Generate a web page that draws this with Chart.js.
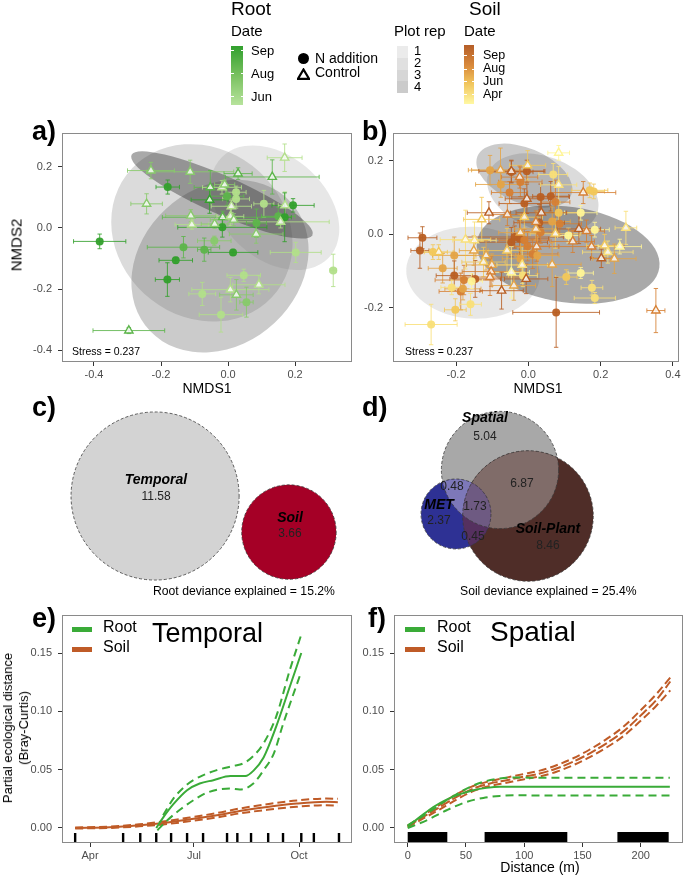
<!DOCTYPE html>
<html><head><meta charset="utf-8">
<script src="https://cdn.jsdelivr.net/npm/chart.js@4.4.1/dist/chart.umd.min.js"></script>
<style>
body{margin:0;width:685px;height:878px;position:relative;background:#fff;overflow:hidden;font-family:"Liberation Sans",Arial,Helvetica,sans-serif}
canvas{position:absolute;left:0;top:0}
.t{position:absolute;white-space:nowrap;line-height:1;color:#000}
.box{position:absolute}
</style></head><body>
<script>
// ---------------- DATA ----------------
// Panel a (Root NMDS)
const aX  = [0.169,-0.230,-0.113,0.030,0.132,-0.180,-0.053,-0.018,-0.010,0.024,-0.003,0.024,-0.243,-0.055,0.010,0.107,0.194,0.170,-0.111,-0.016,0.007,0.017,0.150,0.169,0.157,-0.108,-0.040,0.085,-0.017,0.084,-0.383,-0.041,-0.133,-0.071,0.015,0.202,-0.156,0.314,-0.181,0.047,0.092,0.007,0.025,-0.077,0.055,-0.021,-0.296];
const aY  = [0.230,0.188,0.184,0.178,0.167,0.134,0.133,0.133,0.142,0.117,0.104,0.095,0.079,0.092,0.071,0.079,0.074,0.074,0.040,0.035,0.038,0.027,0.038,0.035,0.020,0.011,0.013,0.016,0.002,-0.020,-0.044,-0.042,-0.063,-0.071,-0.080,-0.080,-0.106,-0.139,-0.169,-0.155,-0.186,-0.202,-0.219,-0.216,-0.243,-0.284,-0.336];
const aXerr = [0.052,0.070,0.130,0.042,0.140,0.035,0.048,0.058,0.030,0.030,0.050,0.040,0.047,0.055,0.060,0.030,0.063,0.020,0.075,0.180,0.040,0.070,0.050,0.020,0.145,0.050,0.040,0.030,0.133,0.080,0.078,0.050,0.108,0.020,0.074,0.076,0.050,0.010,0.036,0.050,0.078,0.115,0.050,0.040,0.020,0.065,0.107];
const aYerr = [0.045,0.027,0.038,0.019,0.056,0.023,0.055,0.022,0.015,0.020,0.030,0.030,0.033,0.044,0.020,0.044,0.022,0.044,0.020,0.020,0.030,0.020,0.030,0.080,0.020,0.015,0.015,0.046,0.032,0.030,0.024,0.015,0.035,0.038,0.010,0.033,0.010,0.053,0.055,0.020,0.030,0.040,0.050,0.038,0.049,0.057,0.010];
const aMonth = [6,7,7,8,8,9,8,6,7,6,8,6,7,9,6,6,9,6,7,8,6,7,8,9,6,6,7,8,9,7,9,7,8,8,9,6,9,6,9,6,6,6,7,6,7,6,8];
const aTrt = ['C','C','C','C','C','N','C','C','C','N','N','N','C','C','C','N','N','C','C','C','C','C','N','N','C','C','C','N','N','C','N','N','N','N','N','N','N','N','N','N','C','C','C','N','N','N','C'];
// plot-rep ellipses (centre, semi-axes, angle in degrees)
const aEllCx = [0.140,-0.078,-0.024,-0.018];
const aEllCy = [0.066,-0.016,-0.125,0.108];
const aEllA  = [0.230,0.300,0.300,0.300];
const aEllB  = [0.160,0.260,0.245,0.062];
const aEllAng= [-50,120,55,-26];

// Panel b (Soil NMDS)
const bX = [-0.106,-0.076,-0.052,-0.047,-0.004,-0.022,-0.011,0.034,0.062,0.075,0.069,0.170,0.181,0.145,0.184,0.084,0.066,0.087,0.030,-0.293,-0.300,-0.264,-0.205,-0.237,-0.205,-0.178,-0.147,-0.187,-0.181,-0.160,-0.202,-0.269,-0.212,-0.157,-0.038,-0.047,-0.024,-0.011,-0.002,-0.022,0.012,0.025,-0.015,0.105,0.145,0.176,0.184,0.077,0.111,0.034,
  -0.077,-0.047,-0.002,-0.024,0.084,0.084,0.152,-0.004,-0.109,-0.058,-0.129,-0.011,0.036,0.021,0.021,0.075,0.140,0.161,0.270,0.123,0.175,0.211,0.253,0.220,0.202,0.238,-0.174,-0.149,-0.151,-0.117,-0.124,-0.101,-0.103,-0.106,-0.059,-0.017,0.023,-0.047,-0.006,-0.040,-0.074,0.066,0.353,-0.022,-0.248];
const bY = [0.175,0.136,0.114,0.170,0.172,0.143,0.084,0.102,0.104,0.088,0.163,0.120,0.117,0.059,0.013,0.059,0.035,0.029,0.032,-0.009,-0.044,-0.048,-0.057,-0.092,-0.112,-0.124,-0.121,-0.155,-0.148,-0.190,-0.205,-0.245,-0.144,-0.127,-0.007,-0.021,-0.012,-0.016,-0.032,-0.066,-0.053,-0.057,-0.112,-0.116,-0.105,-0.145,-0.173,-0.212,-0.003,0.006,
  0.175,0.172,0.188,0.156,0.222,0.135,0.114,0.097,0.059,0.054,0.041,0.047,0.059,0.015,0.034,0.002,0.015,0.009,0.018,-0.019,-0.033,-0.030,-0.033,-0.048,-0.065,-0.066,-0.014,-0.016,-0.044,-0.057,-0.075,-0.083,-0.101,-0.116,-0.044,-0.083,-0.033,-0.103,-0.121,-0.139,-0.153,-0.082,-0.207,0.005,-0.048];
const bXerr = [0.060,0.070,0.050,0.060,0.050,0.060,0.070,0.080,0.050,0.040,0.040,0.050,0.030,0.045,0.040,0.060,0.050,0.060,0.070,0.040,0.025,0.040,0.060,0.040,0.050,0.080,0.070,0.060,0.050,0.030,0.030,0.072,0.030,0.030,0.135,0.100,0.080,0.070,0.060,0.050,0.070,0.060,0.040,0.030,0.035,0.030,0.057,0.120,0.030,0.050,
  0.080,0.090,0.050,0.050,0.030,0.050,0.090,0.060,0.060,0.040,0.050,0.050,0.070,0.060,0.050,0.070,0.060,0.050,0.030,0.060,0.090,0.050,0.060,0.070,0.030,0.060,0.070,0.060,0.040,0.090,0.060,0.070,0.080,0.100,0.080,0.070,0.060,0.050,0.060,0.060,0.060,0.080,0.025,0.060,0.040];
const bYerr = [0.040,0.035,0.030,0.030,0.030,0.040,0.040,0.035,0.040,0.060,0.030,0.020,0.020,0.020,0.020,0.030,0.040,0.030,0.050,0.030,0.048,0.020,0.050,0.040,0.040,0.040,0.050,0.050,0.030,0.030,0.030,0.055,0.020,0.020,0.030,0.040,0.050,0.030,0.040,0.030,0.040,0.050,0.030,0.020,0.015,0.020,0.015,0.095,0.020,0.030,
  0.060,0.030,0.040,0.030,0.020,0.050,0.030,0.040,0.030,0.030,0.060,0.030,0.040,0.030,0.030,0.040,0.040,0.030,0.045,0.030,0.030,0.030,0.020,0.030,0.025,0.040,0.080,0.050,0.040,0.040,0.040,0.030,0.040,0.050,0.060,0.050,0.040,0.070,0.040,0.040,0.050,0.060,0.060,0.050,0.020];
const bMonth = [7,7,8,9,9,8,9,9,9,8,5,6,6,4,4,6,7,8,9,9,9,6,7,7,9,8,9,8,7,5,6,5,5,4,9,9,9,8,8,7,8,7,5,6,4,5,5,9,4,8,
  7,9,6,8,4,5,8,9,9,8,6,6,9,7,8,6,9,8,5,8,8,6,4,5,9,7,5,5,7,7,6,7,8,8,6,5,8,4,9,7,9,7,8,7,6];
const bTrt = Array(50).fill('N').concat(Array(45).fill('C'));
const bEllCx = [-0.153,0.040,-0.011,0.110];
const bEllCy = [-0.104,0.112,0.160,-0.055];
const bEllA  = [0.185,0.160,0.140,0.255];
const bEllB  = [0.125,0.100,0.075,0.130];
const bEllAng= [-3,-20,-22,-8];

// Panel c (Root variation partitioning)
const cSets = ['Temporal','Soil'];
const cValues = [11.58, 3.66];
const cCx = [6.28, 11.70];
const cCy = [4.21, 2.75];

// Panel d (Soil variation partitioning)
const dSets = ['Spatial','Soil-Plant','MET'];
const dRegionSets = [[0],[1],[2],[0,1],[0,2],[1,2],[0,1,2]];
const dRegionValues = [5.04,8.46,2.37,6.87,0.48,0.45,1.73];
const dCx = [9.936, 11.73, 7.115];
const dCy = [8.333, 5.385, 5.513];

// Panel e (Temporal GDM splines), x = day of year
const eTickDays = [91,182,274];
const eTickLabels = ['Apr','Jul','Oct'];
const eRugDays = [78,120,135,149,162,176,190,211,220,232,247,260,276,287,309];
const eRootDays = [149,155,164,176,187,199,214,227,234,243,254,266,276];
const eRootFit  = [0,0.0089,0.0204,0.0324,0.0381,0.0410,0.0445,0.0445,0.0490,0.0605,0.0869,0.1213,0.1500];
const eRootUpDays = [155,164,176,187,202,217,225,234,243,254,266,276];
const eRootUp   = [0.0109,0.0252,0.0373,0.0439,0.0496,0.0533,0.0553,0.0617,0.0726,0.0955,0.1356,0.1658];
const eRootLoDays = [150,158,170,183,193,205,214,222,234,243,252,260,275];
const eRootLo   = [-0.0020,0.0060,0.0158,0.0247,0.0301,0.0333,0.0338,0.0330,0.0381,0.0496,0.0640,0.0889,0.1313];
const eSoilDays = [78,108,134,155,179,202,222,246,272,298,308];
const eSoilFit  = [0.0000,0.0006,0.0023,0.0043,0.0075,0.0109,0.0146,0.0180,0.0209,0.0224,0.0221];
const eSoilUp   = [0.0004,0.0012,0.0032,0.0056,0.0091,0.0128,0.0167,0.0204,0.0236,0.0252,0.0250];
const eSoilLo   = [-0.0004,0.0000,0.0014,0.0030,0.0059,0.0090,0.0125,0.0156,0.0182,0.0196,0.0192];

// Panel f (Spatial GDM splines), x = distance (m)
const fTicks = [0,50,100,150,200];
const fRugIntervals = [[0,34],[66,137],[180,224]];
const fRootDist = [0,10.6,22,33.4,44.9,56.3,67.7,79.1,99,142,225];
const fRootFit  = [0.0014,0.0095,0.0180,0.0244,0.0290,0.0324,0.0344,0.0353,0.0353,0.0353,0.0353];
const fRootCIDist = [0,16.3,33.4,50.6,64.9,79.1,93.4,113.4,225];
const fRootUp   = [0.0023,0.0123,0.0238,0.0338,0.0396,0.0424,0.0433,0.0430,0.0430];
const fRootLo   = [0.0000,0.0066,0.0152,0.0224,0.0258,0.0275,0.0281,0.0278,0.0278];
const fSoilDist = [0,13.4,27.7,42,56.3,70.6,84.9,99,113.4,127.7,142,156.3,170.6,184.9,199,213.4,225.4];
const fSoilFit  = [0.0014,0.0095,0.0180,0.0267,0.0338,0.0381,0.0410,0.0439,0.0467,0.0510,0.0568,0.0640,0.0726,0.0826,0.0955,0.1098,0.1256];
const fSoilUp   = [0.0020,0.0108,0.0200,0.0290,0.0360,0.0402,0.0432,0.0462,0.0492,0.0538,0.0598,0.0673,0.0762,0.0866,0.1000,0.1148,0.1290];
const fSoilLo   = [0.0008,0.0082,0.0160,0.0244,0.0316,0.0360,0.0388,0.0416,0.0442,0.0482,0.0538,0.0607,0.0690,0.0786,0.0910,0.1048,0.1180];

// ---------------- STYLE ----------------
const FONT = '"Liberation Sans", Arial, Helvetica, sans-serif';
Chart.defaults.font.family = FONT;
const ROOT_STOPS = [[6,[178,223,138]],[9,[51,160,44]]];
const SOIL_STOPS = [[4,[255,245,150]],[6,[242,200,90]],[8,[214,128,52]],[9,[185,95,35]]];
const REP_FILL = ['rgba(180,180,180,0.32)','rgba(145,145,145,0.33)','rgba(110,110,110,0.36)','rgba(50,50,50,0.42)'];
const GREEN = '#3aab38', BROWN = '#bf5b27';
const cFill = ['#d3d3d3','#a50026'];
const dRegionColors = ['#a8a8a8','#4f2d28','#2e3194','#806c69','#7d78b9','#55305f','#6e5a82'];

function mix(a,b,t){return a.map((v,i)=>Math.round(v+(b[i]-v)*t));}
function ramp(stops,m){
  if(m<=stops[0][0]) return stops[0][1];
  for(let i=1;i<stops.length;i++){ if(m<=stops[i][0]){const t=(m-stops[i-1][0])/(stops[i][0]-stops[i-1][0]);return mix(stops[i-1][1],stops[i][1],t);} }
  return stops[stops.length-1][1];
}
const rgba=(c,a)=>`rgba(${c[0]},${c[1]},${c[2]},${a})`;

function mkCanvas(){const c=document.createElement('canvas');c.width=685;c.height=878;document.body.appendChild(c);return c.getContext('2d');}
function lab(text,x,yb,size,o={}){
  const d=document.createElement('div');d.className='t';d.textContent=text;
  d.style.fontSize=size+'px';d.style.left=x+'px';d.style.top=(yb-0.846*size)+'px';
  if(o.bold)d.style.fontWeight='bold'; if(o.italic)d.style.fontStyle='italic';
  if(o.color)d.style.color=o.color;
  if(o.align==='center')d.style.transform='translateX(-50%)';
  if(o.align==='right')d.style.transform='translateX(-100%)';
  document.body.appendChild(d);return d;
}
function rlab(html,cx,cy,size,lh){
  const d=document.createElement('div');d.className='t';d.innerHTML=html;
  d.style.fontSize=size+'px';d.style.lineHeight=(lh||size)+'px';d.style.textAlign='center';
  d.style.left=cx+'px';d.style.top=cy+'px';d.style.transform='translate(-50%,-50%) rotate(-90deg)';
  document.body.appendChild(d);
}
function box(x,y,w,h,bg){const d=document.createElement('div');d.className='box';Object.assign(d.style,{left:x+'px',top:y+'px',width:w+'px',height:h+'px',background:bg});document.body.appendChild(d);return d;}

function axis(min,max,ticks,fmt,isX,size,labels){
  return {type:'linear',min,max,
    afterBuildTicks:s=>{s.ticks=ticks.map(v=>({value:v}));},
    afterFit:s=>{if(isX)s.height=size;else s.width=size;},
    ticks:{autoSkip:false,maxRotation:0,font:{size:11},color:'#4d4d4d',padding:isX?2:6,
      callback:(v,i)=>labels?labels[i]:fmt(v)},
    grid:{display:true,drawOnChartArea:false,drawTicks:true,tickLength:4,color:'#333',lineWidth:1},
    border:{display:false}};
}
const framePlugin={id:'frame',afterDraw(c){const a=c.chartArea,x=c.ctx;x.save();x.strokeStyle='#8a8a8a';x.lineWidth=1;
  x.strokeRect(Math.round(a.left)+0.5,Math.round(a.top)+0.5,Math.round(a.right-a.left)-1,Math.round(a.bottom-a.top)-1);x.restore();}};
const baseOpts=(pad,scales)=>({responsive:false,animation:false,devicePixelRatio:1,events:[],layout:{padding:pad},
  plugins:{legend:{display:false},tooltip:{enabled:false}},scales});

// ---------------- NMDS panels ----------------
function nmds(pad,xr,yr,xt,yt,X,Y,XE,YE,M,T,stops,E){
  const ctx=mkCanvas();
  const col=i=>ramp(stops,M[i]);
  const pts=t=>X.map((v,i)=>({x:v,y:Y[i],i})).filter(p=>T[p.i]===t);
  const plug={id:'nmdsLayers',beforeDatasetsDraw(c){
    const g=c.ctx,xs=c.scales.x,ys=c.scales.y,a=c.chartArea;
    g.save();g.beginPath();g.rect(a.left,a.top,a.right-a.left,a.bottom-a.top);g.clip();
    const kx=xs.getPixelForValue(1)-xs.getPixelForValue(0), ky=ys.getPixelForValue(0)-ys.getPixelForValue(1);
    E.cx.forEach((cx,k)=>{
      g.save();g.translate(xs.getPixelForValue(cx),ys.getPixelForValue(E.cy[k]));g.scale(kx,-ky);g.rotate(E.ang[k]*Math.PI/180);
      g.beginPath();g.ellipse(0,0,E.a[k],E.b[k],0,0,2*Math.PI);g.restore();
      g.fillStyle=REP_FILL[k];g.fill();
    });
    X.forEach((v,i)=>{
      const px=xs.getPixelForValue(v),py=ys.getPixelForValue(Y[i]);
      const x0=xs.getPixelForValue(v-XE[i]),x1=xs.getPixelForValue(v+XE[i]);
      const y0=ys.getPixelForValue(Y[i]-YE[i]),y1=ys.getPixelForValue(Y[i]+YE[i]);
      g.strokeStyle=rgba(col(i),0.85);g.lineWidth=1;g.beginPath();
      g.moveTo(x0,py);g.lineTo(x1,py);g.moveTo(x0,py-2.2);g.lineTo(x0,py+2.2);g.moveTo(x1,py-2.2);g.lineTo(x1,py+2.2);
      g.moveTo(px,y0);g.lineTo(px,y1);g.moveTo(px-2.2,y0);g.lineTo(px+2.2,y0);g.moveTo(px-2.2,y1);g.lineTo(px+2.2,y1);
      g.stroke();
    });
    g.restore();
  }};
  new Chart(ctx,{type:'scatter',data:{datasets:[
    {label:'Control',data:pts('C'),pointStyle:'triangle',pointRadius:4.8,pointBackgroundColor:'rgba(255,255,255,0.8)',
      pointBorderColor:c=>c.raw?rgba(col(c.raw.i),1):'#000',pointBorderWidth:1.4},
    {label:'N addition',data:pts('N'),pointStyle:'circle',pointRadius:4,pointBorderWidth:0,
      pointBackgroundColor:c=>c.raw?rgba(col(c.raw.i),0.95):'#000'}
  ]},options:baseOpts(pad,{x:axis(xr[0],xr[1],xt,v=>v.toFixed(1),true,22),y:axis(yr[0],yr[1],yt,v=>v.toFixed(1),false,40)}),
  plugins:[plug,framePlugin]});
}
nmds({left:22,top:133,right:333,bottom:494},[-0.4955,0.370],[-0.439,0.311],[-0.4,-0.2,0,0.2],[-0.4,-0.2,0,0.2],
  aX,aY,aXerr,aYerr,aMonth,aTrt,ROOT_STOPS,{cx:aEllCx,cy:aEllCy,a:aEllA,b:aEllB,ang:aEllAng});
nmds({left:353,top:133,right:2,bottom:494},[-0.3745,0.4164],[-0.347,0.276],[-0.2,0,0.2,0.4],[-0.2,0,0.2],
  bX,bY,bXerr,bYerr,bMonth,bTrt,SOIL_STOPS,{cx:bEllCx,cy:bEllCy,a:bEllA,b:bEllB,ang:bEllAng});

// ---------------- Venn panels ----------------
function pxRadius(c){const s=c.chart.scales.x;return c.raw?s.getPixelForValue(c.raw.r)-s.getPixelForValue(0):0;}
function venn(pad,xr,yr,data,fills,regions){
  const ctx=mkCanvas();
  const plug={id:'vennPaint',afterDatasetsDraw(c){
    const g=c.ctx,m=c.getDatasetMeta(0).data;
    const path=i=>{g.beginPath();g.arc(m[i].x,m[i].y,m[i].options.radius,0,2*Math.PI);};
    if(regions){
      regions.sets.forEach((S,k)=>{ if(S.length<2)return;
        g.save(); S.slice(0,-1).forEach(i=>{path(i);g.clip();}); path(S[S.length-1]); g.fillStyle=regions.colors[k]; g.fill(); g.restore(); });
    }
    g.save();g.setLineDash([3,2]);g.strokeStyle='#3a3a3a';g.lineWidth=0.8;
    m.forEach((e,i)=>{path(i);g.stroke();});g.restore();
  }};
  new Chart(ctx,{type:'scatter',data:{datasets:[{data,pointStyle:'circle',pointRadius:pxRadius,pointBorderWidth:0,
    pointBackgroundColor:fills,clip:false}]},
    options:baseOpts(pad,{x:{type:'linear',display:false,min:xr[0],max:xr[1]},y:{type:'linear',display:false,min:yr[0],max:yr[1]}}),
    plugins:[plug]});
}
venn({left:0,top:400,right:340,bottom:278},[0,13.97],[0,8.097],
  cSets.map((s,i)=>({x:cCx[i],y:cCy[i],r:Math.sqrt(cValues[i])})),cFill,null);
const dArea = dSets.map((s,i)=>dRegionSets.reduce((acc,S,k)=>acc+(S.includes(i)?dRegionValues[k]:0),0));
venn({left:345,top:400,right:0,bottom:278},[0,21.795],[0,12.82],
  dSets.map((s,i)=>({x:dCx[i],y:dCy[i],r:Math.sqrt(dArea[i])})),dRegionColors.slice(0,3),{sets:dRegionSets,colors:dRegionColors});

// ---------------- GDM spline panels ----------------
const xy=(xs,ys)=>xs.map((v,i)=>({x:v,y:ys[i]}));
const lineDs=(data,color,dash)=>({data,borderColor:color,borderWidth:2,borderDash:dash||[],pointRadius:0,fill:false,cubicInterpolationMode:'monotone'});
function spline(pad,xr,xt,labels,fmtX,datasets,rug){
  const ctx=mkCanvas();
  new Chart(ctx,{type:'line',data:{datasets},
    options:baseOpts(pad,{x:axis(xr[0],xr[1],xt,fmtX,true,22,labels),y:axis(-0.01286,0.1826,[0,0.05,0.1,0.15],v=>v.toFixed(2),false,40)}),
    plugins:[rug,framePlugin]});
}
spline({left:22,top:615,right:333,bottom:13},[66.48,320.4],eTickDays,eTickLabels,null,[
  lineDs(xy(eRootDays,eRootFit),GREEN),lineDs(xy(eRootUpDays,eRootUp),GREEN,[8,5]),lineDs(xy(eRootLoDays,eRootLo),GREEN,[8,5]),
  lineDs(xy(eSoilDays,eSoilFit),BROWN),lineDs(xy(eSoilDays,eSoilUp),BROWN,[8,4]),lineDs(xy(eSoilDays,eSoilLo),BROWN,[8,4])
],{id:'rugE',afterDatasetsDraw(c){const g=c.ctx,xs=c.scales.x,b=c.chartArea.bottom;g.save();g.fillStyle='#000';
  eRugDays.forEach(d=>{const x=xs.getPixelForValue(d);g.fillRect(x-1.2,b-10,2.4,10);});g.restore();}});
spline({left:354,top:615,right:2,bottom:13},[-11.76,236.3],fTicks,null,v=>String(v),[
  lineDs(xy(fRootDist,fRootFit),GREEN),lineDs(xy(fRootCIDist,fRootUp),GREEN,[8,5]),lineDs(xy(fRootCIDist,fRootLo),GREEN,[8,5]),
  lineDs(xy(fSoilDist,fSoilFit),BROWN,[10,3]),lineDs(xy(fSoilDist,fSoilUp),BROWN,[8,4]),lineDs(xy(fSoilDist,fSoilLo),BROWN,[8,4])
],{id:'rugF',afterDatasetsDraw(c){const g=c.ctx,xs=c.scales.x,b=c.chartArea.bottom;g.save();g.fillStyle='#000';
  fRugIntervals.forEach(r=>{const x0=xs.getPixelForValue(r[0]),x1=xs.getPixelForValue(r[1]);g.fillRect(x0,b-11,x1-x0,11);});g.restore();}});

// ---------------- TEXT & LEGENDS ----------------
// top legend
lab('Root',231,15,19);
lab('Date',231,36,15);
box(231,46,12,59,'linear-gradient(to bottom,#31a02e,#79c160 50%,#b7e39c)');
[50,73,96].forEach(y=>{box(231,y-0.5,2.5,1,'#fff');box(240.5,y-0.5,2.5,1,'#fff');});
lab('Sep',251,54.5,13);lab('Aug',251,77.5,13);lab('Jun',251,100.5,13);
const dot=box(298,53,11,11,'#000');dot.style.borderRadius='50%';
const tri=document.createElement('div');tri.className='box';tri.style.left='297px';tri.style.top='66px';
tri.innerHTML='<svg width="13" height="12"><polygon points="6.5,1.5 12,10.8 1,10.8" fill="#fff" stroke="#000" stroke-width="2.2"/></svg>';
document.body.appendChild(tri);
lab('N addition',315,63,14);lab('Control',315,77,14);
lab('Plot rep',394,36,15);
['#ebebeb','#e0e0e0','#d6d6d6','#cbcbcb'].forEach((c,i)=>{box(397,46+i*11.75,11,11.75,c);lab(String(i+1),414,54.7+i*12.2,13);});
lab('Soil',469,15,19);
lab('Date',464,36,15);
box(464,45,10,59,'linear-gradient(to bottom,#b55e28,#d98a3c 35%,#f1c55c 65%,#fff8a3)');
[55,69,81,94].forEach(y=>{box(464,y-0.5,2.5,1,'#fff');box(471.5,y-0.5,2.5,1,'#fff');});
lab('Sep',483,59.5,12.5);lab('Aug',483,73,12.5);lab('Jun',483,85.5,12.5);lab('Apr',483,98.5,12.5);

// panel labels
lab('a)',32,141,27,{bold:true});lab('b)',362,141,27,{bold:true});
lab('c)',32,417,27,{bold:true});lab('d)',362,417,27,{bold:true});
lab('e)',32,628,27,{bold:true});lab('f)',368,628,27,{bold:true});

// NMDS titles
rlab('NMDS2',16,245,15);
lab('NMDS1',207,393,14,{align:'center'});lab('NMDS1',538,393,14,{align:'center'});
lab('Stress = 0.237',72,355,10.5);lab('Stress = 0.237',405,355,10.5);

// Venn labels
lab(cSets[0],156,484,14,{bold:true,italic:true,align:'center'});lab(cValues[0].toFixed(2),156,500,12,{align:'center',color:'#222'});
lab(cSets[1],290,522,14,{bold:true,italic:true,align:'center'});lab(cValues[1].toFixed(2),290,537,12,{align:'center',color:'#222'});
lab('Root deviance explained = 15.2%',153,595,12.2);
lab(dSets[0],485,422,14,{bold:true,italic:true,align:'center'});lab(dRegionValues[0].toFixed(2),485,440,12,{align:'center',color:'#222'});
lab(dSets[1],548,533,14,{bold:true,italic:true,align:'center'});lab(dRegionValues[1].toFixed(2),548,549,12,{align:'center',color:'#222'});
lab(dSets[2],439,509,14,{bold:true,italic:true,align:'center'});lab(dRegionValues[2].toFixed(2),439,524,12,{align:'center',color:'#222'});
lab(dRegionValues[3].toFixed(2),522,487,12,{align:'center',color:'#222'});
lab(dRegionValues[4].toFixed(2),452,490,12,{align:'center',color:'#222'});
lab(dRegionValues[5].toFixed(2),473,540,12,{align:'center',color:'#222'});
lab(dRegionValues[6].toFixed(2),475,510,12,{align:'center',color:'#222'});
lab('Soil deviance explained = 25.4%',460,595,12.2);

// GDM panel texts
rlab('Partial ecological distance<br>(Bray-Curtis)',16,728,13,16);
lab('Distance (m)',540,872,14,{align:'center'});
lab('Temporal',152,643,27);lab('Spatial',490,642,28);
box(72,627,20,5,GREEN);lab('Root',103,633,16);box(72,647,20,5,BROWN);lab('Soil',103,653,16);
box(405,627,20,5,GREEN);lab('Root',437,633,16);box(405,647,20,5,BROWN);lab('Soil',437,653,16);
</script>
</body></html>
